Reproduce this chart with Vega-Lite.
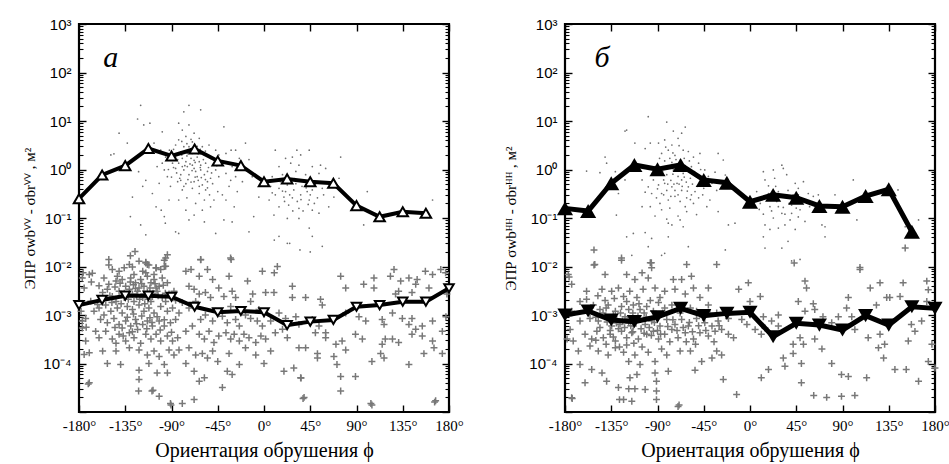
{
"$schema": "https://vega.github.io/schema/vega-lite/v6.json",
"background": "white",
"padding": {"left": 21, "top": 15, "right": 0, "bottom": 5},
"bounds": "flush",
"spacing": 116,
"config": {
 "view": {"stroke": "black", "strokeWidth": 2.2},
 "axis": {"domain": false, "grid": false, "tickColor": "black", "tickWidth": 1.4, "labelColor": "black", "titleColor": "black"}
},
"datasets": {
"dotsA": [
{"phi":-149,"s":2.0},{"phi":-146,"s":2.1},{"phi":-141,"s":5.6},{"phi":-133,"s":3.5},{"phi":-123,"s":11},{"phi":-120,"s":21},{"phi":-128,"s":0.27},{"phi":-130,"s":0.107},{"phi":-120,"s":0.072},{"phi":-122,"s":0.9},{"phi":-115,"s":0.045},{"phi":-118,"s":0.45},{"phi":-115,"s":0.6},
{"phi":-111,"s":9},{"phi":-117,"s":8.3},{"phi":-99,"s":6},{"phi":-107,"s":3.5},{"phi":-100.5,"s":2.5},{"phi":-95.7,"s":1.8},{"phi":-99,"s":1.35},{"phi":-97,"s":0.98},{"phi":-94,"s":0.71},{"phi":-102,"s":0.52},{"phi":-105,"s":0.17},{"phi":-100,"s":0.145},{"phi":-97,"s":0.107},{"phi":-96,"s":0.078},{"phi":-92.4,"s":0.235},{"phi":-91,"s":0.45},{"phi":-108.6,"s":0.32},{"phi":-104,"s":1.15},{"phi":-89,"s":1.35},{"phi":-92,"s":2.5},{"phi":-86,"s":0.052},{"phi":-83,"s":0.048},
{"phi":-83,"s":9},{"phi":-73,"s":21},{"phi":-78,"s":15.5},{"phi":-61.6,"s":17},{"phi":-73,"s":8.3},{"phi":-79.5,"s":6.5},{"phi":-68,"s":5.6},{"phi":-76,"s":4.8},{"phi":-83,"s":4.1},{"phi":-69.7,"s":3.7},{"phi":-63,"s":4.4},{"phi":-86,"s":3.2},{"phi":-78,"s":2.95},{"phi":-73,"s":2.95},{"phi":-81,"s":2.3},{"phi":-74.6,"s":2.15},{"phi":-66.5,"s":2.5},{"phi":-60,"s":2.95},{"phi":-53.5,"s":3.2},{"phi":-47,"s":2.5},{"phi":-86,"s":1.8},{"phi":-79.5,"s":1.7},{"phi":-71,"s":1.7},{"phi":-65,"s":1.8},{"phi":-58,"s":2.0},{"phi":-52,"s":1.7},{"phi":-44,"s":2.0},{"phi":-83,"s":1.35},{"phi":-76,"s":1.45},{"phi":-69.7,"s":1.23},{"phi":-63,"s":1.45},{"phi":-56.8,"s":1.35},{"phi":-50,"s":1.23},{"phi":-86,"s":1.05},{"phi":-78,"s":0.98},{"phi":-68,"s":1.05},{"phi":-61.6,"s":0.98},{"phi":-55,"s":0.91},{"phi":-47,"s":0.98},{"phi":-81,"s":0.78},{"phi":-73,"s":0.78},{"phi":-65,"s":0.71},{"phi":-58,"s":0.78},{"phi":-52,"s":0.66},{"phi":-44,"s":0.71},{"phi":-84,"s":0.56},{"phi":-76,"s":0.51},{"phi":-68,"s":0.56},{"phi":-60,"s":0.48},{"phi":-50,"s":0.51},{"phi":-79.5,"s":0.38},{"phi":-69.7,"s":0.41},{"phi":-63,"s":0.32},{"phi":-56.8,"s":0.38},{"phi":-45,"s":0.35},{"phi":-83,"s":0.235},{"phi":-75,"s":0.26},{"phi":-66.5,"s":0.2},{"phi":-58,"s":0.235},{"phi":-48.7,"s":0.235},{"phi":-76,"s":0.145},{"phi":-68,"s":0.115},{"phi":-60,"s":0.145},{"phi":-52,"s":0.17},{"phi":-40.5,"s":0.3},{"phi":-73,"s":0.091},{"phi":-58,"s":0.083},{"phi":-47,"s":0.048},{"phi":-39,"s":7.6},{"phi":-71,"s":2.5},{"phi":-79.5,"s":1.15},{"phi":-66.5,"s":0.91},{"phi":-68,"s":1.55},{"phi":-74.6,"s":1.15},{"phi":-61.6,"s":1.23},{"phi":-69.7,"s":2.15},{"phi":-81,"s":0.6},{"phi":-55,"s":0.56},{"phi":-63,"s":0.45},
{"phi":-88,"s":2.6},{"phi":-84,"s":1.6},{"phi":-80,"s":2.0},{"phi":-77,"s":1.2},{"phi":-75,"s":1.9},{"phi":-72,"s":1.3},{"phi":-70,"s":0.95},{"phi":-67,"s":1.4},{"phi":-64,"s":2.1},{"phi":-62,"s":1.1},{"phi":-59,"s":1.6},{"phi":-57,"s":0.62},{"phi":-54,"s":1.1},{"phi":-51,"s":0.85},{"phi":-49,"s":1.6},{"phi":-46,"s":1.2},{"phi":-85,"s":0.85},{"phi":-82,"s":0.66},{"phi":-78,"s":0.45},{"phi":-74,"s":0.62},{"phi":-71,"s":0.55},{"phi":-67,"s":0.7},{"phi":-64,"s":0.6},{"phi":-61,"s":0.68},{"phi":-55,"s":0.42},{"phi":-53,"s":0.3},{"phi":-80,"s":3.8},{"phi":-75,"s":3.4},{"phi":-71,"s":4.2},{"phi":-65,"s":3.0},{"phi":-62,"s":2.6},{"phi":-57,"s":2.4},{"phi":-88,"s":1.1},{"phi":-90,"s":0.7},{"phi":-93,"s":1.0},
{"phi":-37,"s":2.15},{"phi":-32,"s":2.5},{"phi":-27.6,"s":2.5},{"phi":-24,"s":1.7},{"phi":-18,"s":3.5},{"phi":-14.6,"s":1.6},{"phi":-35.7,"s":1.35},{"phi":-31,"s":1.15},{"phi":-19.5,"s":0.98},{"phi":-37,"s":0.83},{"phi":-27.6,"s":0.71},{"phi":-21,"s":0.56},{"phi":-34,"s":0.45},{"phi":-26,"s":0.35},{"phi":-11.4,"s":0.71},{"phi":-39,"s":0.091},{"phi":-31,"s":0.083},{"phi":-14.6,"s":0.052},{"phi":-37,"s":0.235},{"phi":-29,"s":0.17},{"phi":-5,"s":0.27},{"phi":-10,"s":0.107},{"phi":-32.4,"s":0.6},
{"phi":11,"s":2.5},{"phi":32,"s":2.5},{"phi":44,"s":2.5},{"phi":21,"s":1.7},{"phi":27.6,"s":1.8},{"phi":35.7,"s":2.0},{"phi":14.6,"s":1.15},{"phi":26,"s":1.35},{"phi":34,"s":1.23},{"phi":47,"s":1.15},{"phi":55,"s":1.23},{"phi":8,"s":0.71},{"phi":18,"s":0.78},{"phi":31,"s":0.91},{"phi":40.5,"s":0.78},{"phi":53.5,"s":0.83},{"phi":60,"s":1.05},{"phi":6.5,"s":0.45},{"phi":14.6,"s":0.41},{"phi":22.7,"s":0.48},{"phi":29,"s":0.38},{"phi":37,"s":0.45},{"phi":47,"s":0.38},{"phi":56.7,"s":0.41},{"phi":11,"s":0.3},{"phi":19.4,"s":0.27},{"phi":27.6,"s":0.26},{"phi":35.7,"s":0.3},{"phi":44,"s":0.235},{"phi":52,"s":0.26},{"phi":14.6,"s":0.17},{"phi":24,"s":0.185},{"phi":34,"s":0.158},{"phi":47,"s":0.145},{"phi":9.7,"s":0.115},{"phi":22.7,"s":0.098},{"phi":34,"s":0.098},{"phi":44,"s":0.062},{"phi":47,"s":0.042},{"phi":14.6,"s":0.042},{"phi":22.7,"s":0.03},{"phi":56.7,"s":0.026},{"phi":68,"s":0.27},{"phi":63,"s":0.17},{"phi":27.6,"s":0.6},{"phi":39,"s":0.56},{"phi":16,"s":0.56},{"phi":32.4,"s":0.22},{"phi":53.5,"s":0.126},{"phi":5,"s":0.235},{"phi":31,"s":0.51},{"phi":42,"s":0.35},{"phi":21,"s":0.35},
{"phi":12,"s":0.6},{"phi":18,"s":0.36},{"phi":25,"s":0.3},{"phi":30,"s":0.65},{"phi":36,"s":0.24},{"phi":41,"s":0.42},{"phi":45,"s":0.3},{"phi":50,"s":0.5},{"phi":58,"s":0.3},{"phi":20,"s":0.22},{"phi":28,"s":0.14},{"phi":38,"s":0.14},{"phi":43,"s":0.19},{"phi":49,"s":0.2},{"phi":8,"s":0.33},{"phi":62,"s":0.55},
{"phi":74.6,"s":1.8},{"phi":100.5,"s":0.35},{"phi":97,"s":0.072},{"phi":164,"s":0.235},{"phi":73,"s":0.66},{"phi":10,"s":0.035},{"phi":25,"s":0.03},{"phi":35,"s":0.022},{"phi":45,"s":0.02}
],
"plusA": [
{"phi":-151,"s":0.014},{"phi":-151,"s":0.0107},{"phi":-130,"s":0.0166},{"phi":-125.5,"s":0.0204},{"phi":-115,"s":0.0118},{"phi":-112,"s":0.0107},{"phi":-97,"s":0.01},{"phi":-94,"s":0.0174},{"phi":-97,"s":0.0135},{"phi":-61.6,"s":0.014},{"phi":-32,"s":0.014},{"phi":-128,"s":0.0098},{"phi":-105,"s":0.0093},
{"phi":-176,"s":0.0074},{"phi":-168,"s":0.0048},{"phi":-173,"s":0.00056},{"phi":-170,"s":0.000166},{"phi":-171,"s":0.000038},
{"phi":-176.8,"s":0.0058},{"phi":-170,"s":0.0068},{"phi":-175,"s":0.0036},{"phi":-167,"s":0.0073},{"phi":-178,"s":0.0012},{"phi":-173.5,"s":0.00085},{"phi":-176.8,"s":0.00054},{"phi":-173.5,"s":0.00029},{"phi":-175,"s":0.000153},{"phi":-170,"s":0.00004},{"phi":-165.4,"s":0.0012},{"phi":-163.8,"s":0.00046},{"phi":-162,"s":0.00164},{"phi":-168.6,"s":0.00193},{"phi":-176.8,"s":0.00075},
{"phi":-147.6,"s":0.0087},{"phi":-141,"s":0.008},{"phi":-136,"s":0.0094},{"phi":-131,"s":0.011},{"phi":-121.6,"s":0.0129},{"phi":-115,"s":0.0122},{"phi":-113.5,"s":0.011},{"phi":-105,"s":0.0094},{"phi":-100.5,"s":0.0087},{"phi":-95.7,"s":0.0101},{"phi":-107,"s":0.0068},{"phi":-118,"s":0.008},{"phi":-126.5,"s":0.0068},{"phi":-95.7,"s":0.015},
{"phi":-155.7,"s":0.0058},{"phi":-151,"s":0.0043},{"phi":-144,"s":0.005},{"phi":-138,"s":0.0054},{"phi":-134.6,"s":0.0039},{"phi":-129.7,"s":0.0058},{"phi":-125,"s":0.0046},{"phi":-120,"s":0.0054},{"phi":-116.8,"s":0.0039},{"phi":-113.5,"s":0.0063},{"phi":-110,"s":0.0046},{"phi":-107,"s":0.0054},{"phi":-102,"s":0.0039},{"phi":-99,"s":0.0058},{"phi":-94,"s":0.0046},{"phi":-142.7,"s":0.0063},{"phi":-160.5,"s":0.004},{"phi":-121.6,"s":0.0036},{"phi":-105,"s":0.0036},{"phi":-115,"s":0.0074},
{"phi":-157,"s":0.0029},{"phi":-152.4,"s":0.0034},{"phi":-147.6,"s":0.0024},{"phi":-141,"s":0.0031},{"phi":-136,"s":0.0023},{"phi":-131,"s":0.0034},{"phi":-128,"s":0.0027},{"phi":-123,"s":0.0031},{"phi":-118,"s":0.0023},{"phi":-113.5,"s":0.0029},{"phi":-108.6,"s":0.0024},{"phi":-104,"s":0.0031},{"phi":-99,"s":0.0023},{"phi":-92.4,"s":0.0027},{"phi":-87.6,"s":0.0031},{"phi":-144,"s":0.0019},{"phi":-126.5,"s":0.0019},{"phi":-110,"s":0.0019},{"phi":-95.7,"s":0.0019},{"phi":-86,"s":0.002},
{"phi":-160.5,"s":0.0014},{"phi":-154,"s":0.0016},{"phi":-149,"s":0.0012},{"phi":-142.7,"s":0.0014},{"phi":-138,"s":0.0011},{"phi":-133,"s":0.0015},{"phi":-128,"s":0.0013},{"phi":-121.6,"s":0.0016},{"phi":-116.8,"s":0.0012},{"phi":-112,"s":0.0014},{"phi":-107,"s":0.0011},{"phi":-100.5,"s":0.0015},{"phi":-94,"s":0.0012},{"phi":-89,"s":0.0014},{"phi":-82.7,"s":0.0011},{"phi":-155.7,"s":0.001},{"phi":-104,"s":0.00092},
{"phi":-159,"s":0.00081},{"phi":-152.4,"s":0.00069},{"phi":-146,"s":0.00085},{"phi":-141,"s":0.00064},{"phi":-134.6,"s":0.00075},{"phi":-129.7,"s":0.00059},{"phi":-125,"s":0.00081},{"phi":-118,"s":0.00064},{"phi":-113.5,"s":0.00075},{"phi":-108.6,"s":0.00059},{"phi":-102,"s":0.00075},{"phi":-97,"s":0.00059},{"phi":-91,"s":0.00069},{"phi":-86,"s":0.00081},{"phi":-138,"s":0.00054},{"phi":-123,"s":0.0005},
{"phi":-160.5,"s":0.00034},{"phi":-154,"s":0.00046},{"phi":-147.6,"s":0.00032},{"phi":-141,"s":0.0004},{"phi":-134.6,"s":0.00029},{"phi":-131,"s":0.00043},{"phi":-126.5,"s":0.00034},{"phi":-120,"s":0.00026},{"phi":-115,"s":0.0004},{"phi":-110,"s":0.00032},{"phi":-105,"s":0.0004},{"phi":-100.5,"s":0.00029},{"phi":-94,"s":0.00037},{"phi":-89,"s":0.00029},{"phi":-84,"s":0.00034},{"phi":-144,"s":0.00026},
{"phi":-157,"s":0.00018},{"phi":-152.4,"s":0.0001},{"phi":-144,"s":0.00018},{"phi":-139.5,"s":0.000095},{"phi":-131,"s":0.00021},{"phi":-121.6,"s":0.00019},{"phi":-113.5,"s":0.00015},{"phi":-112,"s":0.0001},{"phi":-107,"s":0.00018},{"phi":-102,"s":0.00014},{"phi":-97,"s":0.000095},{"phi":-92.4,"s":0.00019},{"phi":-87.6,"s":0.00015},{"phi":-82.7,"s":0.00019},{"phi":-76,"s":0.0001},
{"phi":-121.6,"s":0.000073},{"phi":-121.6,"s":0.000047},{"phi":-122,"s":0.000027},{"phi":-109,"s":0.000027},{"phi":-102,"s":0.000021},{"phi":-104,"s":0.000064},{"phi":-94,"s":0.000064},{"phi":-91,"s":0.000015},{"phi":-79.5,"s":0.000015},{"phi":-68,"s":0.000018},{"phi":-68,"s":0.000069},{"phi":-63,"s":0.000043},{"phi":-58,"s":0.000051},{"phi":-40.5,"s":0.000032},{"phi":-35.7,"s":0.000069},{"phi":-31,"s":0.000059},{"phi":-108,"s":0.000028},{"phi":-90.5,"s":0.000014},
{"phi":-140,"s":0.0045},{"phi":-136,"s":0.0028},{"phi":-132,"s":0.0021},{"phi":-127,"s":0.0042},{"phi":-124,"s":0.0025},{"phi":-119,"s":0.0044},{"phi":-117,"s":0.0027},{"phi":-113,"s":0.0021},{"phi":-111,"s":0.0036},{"phi":-108,"s":0.0028},{"phi":-106,"s":0.0044},{"phi":-103,"s":0.0025},{"phi":-98,"s":0.0041},{"phi":-96,"s":0.0028},{"phi":-145,"s":0.0038},{"phi":-150,"s":0.0025},{"phi":-125,"s":0.0035},{"phi":-130,"s":0.0048},{"phi":-121,"s":0.0021},{"phi":-116,"s":0.0017},{"phi":-139,"s":0.0017},{"phi":-148,"s":0.0018},{"phi":-133,"s":0.0009},{"phi":-127,"s":0.00105},{"phi":-119,"s":0.00095},{"phi":-111,"s":0.00088},{"phi":-145,"s":0.00055},{"phi":-128,"s":0.00045},{"phi":-114,"s":0.00052},{"phi":-101,"s":0.00049},{"phi":-90,"s":0.00044},{"phi":-137,"s":0.00037},{"phi":-124,"s":0.00066},{"phi":-109,"s":0.0007},{"phi":-97,"s":0.0008},
{"phi":-76,"s":0.008},{"phi":-71,"s":0.0087},{"phi":-63,"s":0.0063},{"phi":-55,"s":0.0087},{"phi":-50,"s":0.0054},{"phi":-73,"s":0.0039},{"phi":-68,"s":0.0034},{"phi":-63,"s":0.0027},{"phi":-57,"s":0.0029},{"phi":-52,"s":0.0023},{"phi":-44,"s":0.0036},{"phi":-39,"s":0.0024},{"phi":-34,"s":0.0063},{"phi":-31,"s":0.0031},{"phi":-27.6,"s":0.0023},{"phi":-16,"s":0.005},{"phi":-11,"s":0.0027},{"phi":-13,"s":0.0019},{"phi":-1.6,"s":0.008},{"phi":1.6,"s":0.0029},{"phi":9.7,"s":0.0029},{"phi":-61.6,"s":0.0137},{"phi":-32.5,"s":0.015},
{"phi":-79.5,"s":0.0018},{"phi":-73,"s":0.0014},{"phi":-66.5,"s":0.0019},{"phi":-61.6,"s":0.00081},{"phi":-57,"s":0.001},{"phi":-50,"s":0.00075},{"phi":-47,"s":0.0012},{"phi":-40.5,"s":0.00094},{"phi":-35.7,"s":0.00069},{"phi":-32.4,"s":0.0015},{"phi":-27.6,"s":0.00081},{"phi":-24,"s":0.00059},{"phi":-18,"s":0.001},{"phi":-13,"s":0.00085},{"phi":-6.5,"s":0.00075},{"phi":-1.6,"s":0.00059},{"phi":-5,"s":0.0013},
{"phi":-76,"s":0.00046},{"phi":-69.7,"s":0.00059},{"phi":-63,"s":0.0004},{"phi":-58,"s":0.00032},{"phi":-53.5,"s":0.00046},{"phi":-48.7,"s":0.00027},{"phi":-44,"s":0.00037},{"phi":-37,"s":0.00043},{"phi":-32.4,"s":0.00032},{"phi":-29,"s":0.0004},{"phi":-24,"s":0.00029},{"phi":-19.5,"s":0.0004},{"phi":-14.6,"s":0.00034},{"phi":-8,"s":0.00027},{"phi":-3,"s":0.00037},{"phi":1.6,"s":0.00032},
{"phi":-73,"s":0.00021},{"phi":-66.5,"s":0.00015},{"phi":-60,"s":0.00016},{"phi":-55,"s":0.00013},{"phi":-50,"s":0.00018},{"phi":-45,"s":0.00011},{"phi":-34,"s":0.00016},{"phi":-24,"s":0.000095},{"phi":-18,"s":0.00021},{"phi":-8,"s":0.00015},{"phi":0,"s":0.0001},{"phi":6.5,"s":0.00018},
{"phi":13,"s":0.01},{"phi":27.6,"s":0.0039},{"phi":27.6,"s":0.0023},{"phi":40.5,"s":0.0023},{"phi":55,"s":0.0021},{"phi":56.7,"s":0.0016},{"phi":74.6,"s":0.0063},{"phi":79.5,"s":0.0036},{"phi":97,"s":0.0043},{"phi":107,"s":0.0058},{"phi":107,"s":0.0036},{"phi":123,"s":0.0063},{"phi":126.5,"s":0.0087},{"phi":133,"s":0.005},{"phi":141,"s":0.0058},{"phi":147.6,"s":0.0043},{"phi":149,"s":0.0054},{"phi":157,"s":0.008},{"phi":164,"s":0.0068},{"phi":172,"s":0.0087},{"phi":176.7,"s":0.0074},{"phi":131,"s":0.0031},{"phi":128,"s":0.0027},{"phi":144,"s":0.0029},{"phi":160.5,"s":0.0036},{"phi":178,"s":0.0027},
{"phi":6.5,"s":0.00075},{"phi":14.6,"s":0.0011},{"phi":21,"s":0.00085},{"phi":31,"s":0.00092},{"phi":34,"s":0.00064},{"phi":47,"s":0.00081},{"phi":53.5,"s":0.00059},{"phi":66.5,"s":0.00085},{"phi":79.5,"s":0.0011},{"phi":92.4,"s":0.00092},{"phi":99,"s":0.00075},{"phi":115,"s":0.00081},{"phi":116.8,"s":0.00064},{"phi":125,"s":0.0011},{"phi":134.6,"s":0.00085},{"phi":141,"s":0.00064},{"phi":144,"s":0.00085},{"phi":154,"s":0.00059},{"phi":164,"s":0.00075},{"phi":177,"s":0.00092},
{"phi":11,"s":0.00043},{"phi":18,"s":0.00051},{"phi":22.7,"s":0.00034},{"phi":34,"s":0.00021},{"phi":40.5,"s":0.00021},{"phi":50,"s":0.00043},{"phi":60,"s":0.00043},{"phi":60,"s":0.00034},{"phi":70,"s":0.00025},{"phi":76,"s":0.00029},{"phi":89,"s":0.0004},{"phi":95.7,"s":0.00032},{"phi":115,"s":0.00025},{"phi":118,"s":0.00032},{"phi":125,"s":0.00032},{"phi":131,"s":0.00027},{"phi":144,"s":0.0004},{"phi":147.6,"s":0.00051},{"phi":154,"s":0.00037},{"phi":164,"s":0.00029},{"phi":173.5,"s":0.00046},{"phi":165.4,"s":0.00021},{"phi":173.5,"s":0.00016},{"phi":155.6,"s":0.00016},
{"phi":19.4,"s":0.000069},{"phi":29,"s":0.000081},{"phi":35.7,"s":0.000051},{"phi":52,"s":0.00013},{"phi":52,"s":0.00016},{"phi":68,"s":0.00014},{"phi":71,"s":0.000095},{"phi":74.6,"s":0.000054},{"phi":74.6,"s":0.000027},{"phi":79.5,"s":0.00019},{"phi":89,"s":0.000054},{"phi":105,"s":0.00011},{"phi":113.5,"s":0.00016},{"phi":116.8,"s":0.00013},{"phi":141,"s":0.000095},{"phi":39,"s":0.00002},{"phi":105,"s":0.000014},{"phi":167,"s":0.000017},{"phi":104,"s":0.000015},{"phi":166,"s":0.000016},{"phi":38,"s":0.000019},{"phi":36,"s":0.00005},{"phi":10,"s":0.0074}
],
"upA": [
{"phi":-180,"s":0.25},{"phi":-157.5,"s":0.77},{"phi":-135,"s":1.2},{"phi":-112.5,"s":2.7},{"phi":-90,"s":1.9},{"phi":-67.5,"s":2.65},{"phi":-45,"s":1.5},{"phi":-22.5,"s":1.2},{"phi":0,"s":0.56},{"phi":22.5,"s":0.64},{"phi":45,"s":0.56},{"phi":67.5,"s":0.52},{"phi":90,"s":0.18},{"phi":112.5,"s":0.106},{"phi":135,"s":0.135},{"phi":157.5,"s":0.125}
],
"lowA": [
{"phi":-180,"s":0.0016},{"phi":-157.5,"s":0.00204},{"phi":-135,"s":0.0025},{"phi":-112.5,"s":0.0025},{"phi":-90,"s":0.00238},{"phi":-67.5,"s":0.00148},{"phi":-45,"s":0.00114},{"phi":-22.5,"s":0.00121},{"phi":0,"s":0.00114},{"phi":22.5,"s":0.00062},{"phi":45,"s":0.00073},{"phi":67.5,"s":0.00079},{"phi":90,"s":0.00148},{"phi":112.5,"s":0.0016},{"phi":135,"s":0.00188},{"phi":157.5,"s":0.00188},{"phi":180,"s":0.00356}
],
"dotsB": [
{"phi":-99,"s":12.3},{"phi":-81,"s":9.5},{"phi":-121.6,"s":6.2},{"phi":-120,"s":6.5},{"phi":-74.6,"s":6.2},{"phi":-63,"s":7.5},{"phi":-66.5,"s":5.6},{"phi":-112,"s":3.5},{"phi":-102,"s":2.7},{"phi":-97,"s":3.5},{"phi":-141,"s":1.8},{"phi":-139.5,"s":1.35},{"phi":-159,"s":0.93},{"phi":-146,"s":0.86},{"phi":-131,"s":0.9},{"phi":-121.6,"s":0.61},{"phi":-128,"s":0.32},{"phi":-130,"s":0.115},{"phi":-120,"s":0.041},{"phi":-115,"s":0.017},{"phi":-113.5,"s":0.048},{"phi":-99,"s":0.0256},{"phi":-102,"s":0.05},{"phi":-95.7,"s":0.038},{"phi":-83,"s":0.0187},{"phi":-86,"s":0.017},{"phi":-60,"s":0.0256},{"phi":-65,"s":0.066},{"phi":-79.5,"s":0.041},{"phi":-24,"s":0.022},{"phi":-31,"s":0.136},{"phi":-39,"s":0.235},{"phi":-31,"s":2.15},{"phi":-26,"s":1.57},{"phi":-34,"s":0.88},{"phi":-24,"s":0.77},{"phi":-11,"s":0.37},{"phi":-14.6,"s":0.078},{"phi":-21,"s":0.072},
{"phi":-89,"s":3.5},{"phi":-83,"s":4.06},{"phi":-76,"s":3.2},{"phi":-70,"s":4.4},{"phi":-65,"s":2.5},{"phi":-79.5,"s":2.5},{"phi":-86,"s":2.15},{"phi":-73,"s":1.95},{"phi":-60,"s":2.35},{"phi":-55,"s":1.8},{"phi":-48.7,"s":2.15},{"phi":-83,"s":1.5},{"phi":-76,"s":1.4},{"phi":-68,"s":1.57},{"phi":-63,"s":1.2},{"phi":-57,"s":1.14},{"phi":-50,"s":1.35},{"phi":-44,"s":0.98},{"phi":-92.4,"s":1.14},{"phi":-87.6,"s":0.93},{"phi":-81,"s":0.78},{"phi":-74.6,"s":0.98},{"phi":-70,"s":0.72},{"phi":-65,"s":0.83},{"phi":-58,"s":0.66},{"phi":-52,"s":0.77},{"phi":-47,"s":0.61},{"phi":-94,"s":0.61},{"phi":-89,"s":0.48},{"phi":-83,"s":0.52},{"phi":-76,"s":0.44},{"phi":-71,"s":0.52},{"phi":-66.5,"s":0.37},{"phi":-60,"s":0.44},{"phi":-53.5,"s":0.35},{"phi":-45,"s":0.41},{"phi":-95.7,"s":0.32},{"phi":-91,"s":0.26},{"phi":-86,"s":0.32},{"phi":-79.5,"s":0.235},{"phi":-73,"s":0.28},{"phi":-68,"s":0.22},{"phi":-61.6,"s":0.26},{"phi":-55,"s":0.2},{"phi":-50,"s":0.26},{"phi":-97,"s":0.171},{"phi":-86,"s":0.148},{"phi":-78,"s":0.16},{"phi":-70,"s":0.11},{"phi":-61.6,"s":0.136},{"phi":-52,"s":0.118},{"phi":-42,"s":0.171},{"phi":-79.5,"s":0.078},{"phi":-76,"s":0.072},{"phi":-81,"s":0.095},{"phi":-68,"s":0.091},{"phi":-92.4,"s":0.11},{"phi":-105,"s":0.171},{"phi":-102,"s":0.34},{"phi":-105,"s":0.61},{"phi":-99,"s":0.44},{"phi":-37,"s":0.52},{"phi":-32.4,"s":0.37},{"phi":-40.5,"s":0.72},{"phi":-78,"s":1.7},{"phi":-71,"s":1.14},{"phi":-66.5,"s":0.61},{"phi":-84,"s":0.61},{"phi":-63,"s":0.171},{"phi":-87.6,"s":0.2},{"phi":-57,"s":0.3},{"phi":-73,"s":0.37},{"phi":-81,"s":0.37},
{"phi":-88,"s":1.7},{"phi":-85,"s":0.9},{"phi":-80,"s":1.1},{"phi":-77,"s":0.6},{"phi":-75,"s":0.8},{"phi":-72,"s":1.6},{"phi":-69,"s":0.5},{"phi":-67,"s":1.0},{"phi":-64,"s":0.7},{"phi":-62,"s":0.55},{"phi":-59,"s":1.5},{"phi":-56,"s":0.5},{"phi":-54,"s":0.9},{"phi":-51,"s":0.45},{"phi":-48,"s":1.0},{"phi":-46,"s":0.3},{"phi":-90,"s":0.4},{"phi":-84,"s":0.3},{"phi":-80,"s":0.5},{"phi":-77,"s":0.28},{"phi":-74,"s":0.5},{"phi":-70,"s":0.3},{"phi":-66,"s":0.45},{"phi":-61,"s":0.36},{"phi":-58,"s":0.24},{"phi":-82,"s":2.9},{"phi":-75,"s":2.2},{"phi":-69,"s":3.1},{"phi":-64,"s":1.7},
{"phi":13,"s":0.9},{"phi":22.7,"s":0.98},{"phi":32.4,"s":1.05},{"phi":35.7,"s":0.78},{"phi":31,"s":1.23},{"phi":14.6,"s":0.61},{"phi":24,"s":0.66},{"phi":44,"s":0.52},{"phi":52,"s":0.56},{"phi":6.5,"s":0.35},{"phi":18,"s":0.32},{"phi":27.6,"s":0.35},{"phi":37,"s":0.37},{"phi":47,"s":0.3},{"phi":56.7,"s":0.32},{"phi":66.5,"s":0.3},{"phi":10,"s":0.2},{"phi":19.4,"s":0.171},{"phi":26,"s":0.22},{"phi":32.4,"s":0.165},{"phi":40.5,"s":0.185},{"phi":48.7,"s":0.148},{"phi":58,"s":0.171},{"phi":13,"s":0.12},{"phi":22.7,"s":0.1},{"phi":31,"s":0.125},{"phi":39,"s":0.091},{"phi":47,"s":0.105},{"phi":53.5,"s":0.085},{"phi":14.6,"s":0.072},{"phi":27.6,"s":0.062},{"phi":34,"s":0.072},{"phi":44,"s":0.058},{"phi":13,"s":0.041},{"phi":19.4,"s":0.058},{"phi":31,"s":0.024},{"phi":37,"s":0.033},{"phi":14.6,"s":0.024},{"phi":40.5,"s":0.013},{"phi":48.7,"s":0.014},{"phi":73,"s":0.066},{"phi":70,"s":0.072},{"phi":73,"s":0.041},{"phi":61,"s":0.2},{"phi":44,"s":0.235},{"phi":22.7,"s":0.235},{"phi":47,"s":0.41},{"phi":18,"s":0.46},{"phi":35.7,"s":0.26},{"phi":27.6,"s":0.171},{"phi":40.5,"s":0.125},
{"phi":16,"s":0.28},{"phi":21,"s":0.14},{"phi":29,"s":0.27},{"phi":34,"s":0.12},{"phi":42,"s":0.3},{"phi":51,"s":0.22},{"phi":25,"s":0.45},{"phi":38,"s":0.2},{"phi":9,"s":0.15},{"phi":45,"s":0.16},
{"phi":100.5,"s":0.61},{"phi":104,"s":0.091},{"phi":144,"s":0.38},{"phi":151,"s":0.066},{"phi":164,"s":0.091},{"phi":61.6,"s":0.28},{"phi":82.7,"s":0.3}
],
"plusB": [
{"phi":-151,"s":0.011},{"phi":-141,"s":0.0068},{"phi":-125,"s":0.015},{"phi":-120,"s":0.0068},{"phi":-112,"s":0.0054},{"phi":-105,"s":0.0074},{"phi":-99,"s":0.0058},{"phi":-97,"s":0.0119},{"phi":-95.7,"s":0.0094},{"phi":-74.6,"s":0.0054},{"phi":-66.5,"s":0.0054},{"phi":-61.6,"s":0.011},{"phi":-57,"s":0.0063},{"phi":-32.4,"s":0.011},{"phi":-40.5,"s":0.0036},{"phi":-176.8,"s":0.0068},{"phi":-173.5,"s":0.0043},{"phi":-159,"s":0.0031},{"phi":-159,"s":0.0021},{"phi":-11,"s":0.0034},{"phi":-1.6,"s":0.0046},{"phi":10,"s":0.0024},{"phi":0,"s":0.0019},{"phi":-151.8,"s":0.022},{"phi":-151.8,"s":0.0107},{"phi":-125,"s":0.0135},{"phi":-96,"s":0.012},{"phi":-176,"s":0.0061},
{"phi":-144,"s":0.0034},{"phi":-134.6,"s":0.0031},{"phi":-128,"s":0.0036},{"phi":-123,"s":0.0024},{"phi":-117,"s":0.0031},{"phi":-110,"s":0.0023},{"phi":-104,"s":0.0034},{"phi":-92.4,"s":0.0036},{"phi":-87.6,"s":0.0023},{"phi":-83,"s":0.0031},{"phi":-73,"s":0.0034},{"phi":-63,"s":0.0027},{"phi":-55,"s":0.0036},{"phi":-48.7,"s":0.0023},{"phi":-141,"s":0.002},{"phi":-97,"s":0.002},{"phi":-165.4,"s":0.0019},
{"phi":-152.4,"s":0.0016},{"phi":-146,"s":0.0013},{"phi":-138,"s":0.0016},{"phi":-131,"s":0.0012},{"phi":-125,"s":0.0015},{"phi":-118,"s":0.0013},{"phi":-113.5,"s":0.0016},{"phi":-107,"s":0.0013},{"phi":-100.5,"s":0.0015},{"phi":-94,"s":0.0012},{"phi":-89,"s":0.0018},{"phi":-83,"s":0.0014},{"phi":-76,"s":0.0016},{"phi":-58,"s":0.0014},{"phi":-52,"s":0.0012},{"phi":-40.5,"s":0.0016},{"phi":-32.4,"s":0.0011},{"phi":-173.5,"s":0.0012},
{"phi":-175,"s":0.0005},{"phi":-165.4,"s":0.00075},{"phi":-155.7,"s":0.00085},{"phi":-147.6,"s":0.00075},{"phi":-141,"s":0.00092},{"phi":-134.6,"s":0.00059},{"phi":-129.7,"s":0.00081},{"phi":-126.5,"s":0.00064},{"phi":-121.6,"s":0.00092},{"phi":-118,"s":0.00069},{"phi":-113.5,"s":0.00059},{"phi":-107,"s":0.00081},{"phi":-102,"s":0.00064},{"phi":-95.7,"s":0.00075},{"phi":-87.6,"s":0.00059},{"phi":-81,"s":0.00081},{"phi":-73,"s":0.00064},{"phi":-66.5,"s":0.00081},{"phi":-60,"s":0.00059},{"phi":-52,"s":0.00085},{"phi":-44,"s":0.00069},{"phi":-37,"s":0.00059},{"phi":-31,"s":0.00075},{"phi":-21,"s":0.00085},{"phi":-8,"s":0.00081},{"phi":-3,"s":0.00064},
{"phi":-172,"s":0.00029},{"phi":-160.5,"s":0.0004},{"phi":-154,"s":0.00032},{"phi":-149,"s":0.00046},{"phi":-142.7,"s":0.00034},{"phi":-136,"s":0.0004},{"phi":-131,"s":0.00029},{"phi":-125,"s":0.00046},{"phi":-120,"s":0.00034},{"phi":-115,"s":0.00043},{"phi":-108.6,"s":0.00032},{"phi":-100.5,"s":0.0004},{"phi":-94,"s":0.00046},{"phi":-89,"s":0.00032},{"phi":-83,"s":0.0004},{"phi":-76,"s":0.0005},{"phi":-70,"s":0.00034},{"phi":-63,"s":0.00043},{"phi":-55,"s":0.00032},{"phi":-48.7,"s":0.00043},{"phi":-40.5,"s":0.00037},{"phi":-34,"s":0.00046},{"phi":-27.6,"s":0.0005},{"phi":-21,"s":0.0004},{"phi":-16,"s":0.00034},{"phi":-178,"s":0.00032},
{"phi":-167,"s":0.00018},{"phi":-155.7,"s":0.00023},{"phi":-147.6,"s":0.00018},{"phi":-138,"s":0.00015},{"phi":-131,"s":0.00021},{"phi":-123,"s":0.00017},{"phi":-118,"s":0.00011},{"phi":-112,"s":0.00015},{"phi":-107,"s":0.000095},{"phi":-99,"s":0.00017},{"phi":-92.4,"s":0.00011},{"phi":-86,"s":0.0002},{"phi":-81,"s":0.00015},{"phi":-68,"s":0.00018},{"phi":-58,"s":0.00018},{"phi":-47,"s":0.00011},{"phi":-37,"s":0.00013},{"phi":-32.4,"s":0.00018},{"phi":-27.6,"s":0.00015},{"phi":-165.4,"s":0.000095},{"phi":-154,"s":0.000075},{"phi":-144,"s":0.000064},{"phi":-139.5,"s":0.000043},{"phi":-128,"s":0.000032},{"phi":-118,"s":0.00003},{"phi":-112,"s":0.00003},{"phi":-102,"s":0.000029},{"phi":-91,"s":0.000043},{"phi":-91,"s":0.000027},{"phi":-91,"s":0.000018},{"phi":-79.5,"s":0.000069},{"phi":-70,"s":0.000013},{"phi":-123,"s":0.000018},{"phi":-115,"s":0.0000167},{"phi":-173.5,"s":0.0000196},{"phi":-160.5,"s":0.00004},{"phi":-26,"s":0.000047},{"phi":-13,"s":0.000023},{"phi":11,"s":0.000051},{"phi":-92.4,"s":0.000064},{"phi":-116.8,"s":0.000051},{"phi":-110,"s":0.000059},{"phi":-53.5,"s":0.000073},{"phi":-173,"s":0.000019},{"phi":-69,"s":0.000014},{"phi":-127,"s":0.000018},
{"phi":-150,"s":0.0009},{"phi":-146,"s":0.00055},{"phi":-143,"s":0.0011},{"phi":-139,"s":0.00072},{"phi":-136,"s":0.00048},{"phi":-133,"s":0.001},{"phi":-130,"s":0.00068},{"phi":-128,"s":0.00052},{"phi":-124,"s":0.00075},{"phi":-122,"s":0.00055},{"phi":-119,"s":0.00085},{"phi":-116,"s":0.0006},{"phi":-114,"s":0.00045},{"phi":-111,"s":0.00072},{"phi":-109,"s":0.00095},{"phi":-106,"s":0.00052},{"phi":-103,"s":0.00042},{"phi":-101,"s":0.0009},{"phi":-98,"s":0.00055},{"phi":-96,"s":0.00038},{"phi":-93,"s":0.0007},{"phi":-90,"s":0.00048},{"phi":-87,"s":0.0004},{"phi":-85,"s":0.0011},{"phi":-80,"s":0.00058},{"phi":-78,"s":0.00028},{"phi":-75,"s":0.0008},{"phi":-71,"s":0.00048},{"phi":-68,"s":0.0011},{"phi":-65,"s":0.00055},{"phi":-62,"s":0.00028},{"phi":-59,"s":0.0007},{"phi":-56,"s":0.00045},{"phi":-53,"s":0.00025},{"phi":-50,"s":0.0006},{"phi":-46,"s":0.0009},{"phi":-43,"s":0.00048},{"phi":-39,"s":0.0011},{"phi":-35,"s":0.00028},{"phi":-30,"s":0.0006},{"phi":-148,"s":0.0025},{"phi":-140,"s":0.0014},{"phi":-132,"s":0.0022},{"phi":-126,"s":0.0011},{"phi":-120,"s":0.0019},{"phi":-114,"s":0.0011},{"phi":-108,"s":0.0017},{"phi":-103,"s":0.0011},{"phi":-150,"s":0.0003},{"phi":-140,"s":0.00025},{"phi":-133,"s":0.00035},{"phi":-127,"s":0.00022},{"phi":-120,"s":0.00024},{"phi":-113,"s":0.00026},{"phi":-105,"s":0.00022},
{"phi":32.4,"s":0.00013},{"phi":42,"s":0.00016},{"phi":50,"s":0.0001},{"phi":50,"s":0.00004},{"phi":79.5,"s":0.0001},{"phi":74.6,"s":0.00002},{"phi":89,"s":0.000059},{"phi":89,"s":0.000021},{"phi":95.7,"s":0.000054},{"phi":113.5,"s":0.000051},{"phi":141,"s":0.000075},{"phi":152,"s":0.000075},{"phi":164,"s":0.000043},{"phi":173.5,"s":0.00011},{"phi":180,"s":0.000081},{"phi":172,"s":0.0019},{"phi":172,"s":0.005},{"phi":173.5,"s":0.0033},{"phi":167,"s":0.00075},{"phi":160.5,"s":0.00046},{"phi":177,"s":0.00025},{"phi":157,"s":0.00064},{"phi":154,"s":0.00029},{"phi":133,"s":0.0023},{"phi":136,"s":0.0023},{"phi":146,"s":0.0024},{"phi":149,"s":0.0046},{"phi":117,"s":0.0036},{"phi":126.5,"s":0.0046},{"phi":123,"s":0.0016},{"phi":126.5,"s":0.0004},{"phi":125,"s":0.00021},{"phi":130,"s":0.00013},{"phi":131,"s":0.00025},{"phi":115,"s":0.00034},{"phi":102,"s":0.0005},{"phi":107,"s":0.0087},{"phi":95.7,"s":0.0023},{"phi":94,"s":0.0014},{"phi":99,"s":0.00092},{"phi":79.5,"s":0.00069},{"phi":86,"s":0.00092},{"phi":71,"s":0.00092},{"phi":70,"s":0.0002},{"phi":63,"s":0.00032},{"phi":61.6,"s":0.0017},{"phi":53.5,"s":0.005},{"phi":55,"s":0.0036},{"phi":63,"s":0.0013},{"phi":53.5,"s":0.0012},{"phi":48.7,"s":0.00034},{"phi":52,"s":0.00025},{"phi":42,"s":0.00025},{"phi":27.6,"s":0.001},{"phi":21,"s":0.00075},{"phi":14.6,"s":0.00054},{"phi":11,"s":0.0004},{"phi":18,"s":0.000075},{"phi":34,"s":0.000088},{"phi":5,"s":0.0005},{"phi":47,"s":0.0019},{"phi":13,"s":0.00092},{"phi":27.6,"s":0.00059},{"phi":62,"s":0.000022},{"phi":102,"s":0.000022},{"phi":151,"s":0.024},{"phi":43,"s":0.0118},{"phi":107,"s":0.0095}
],
"upB": [
{"phi":-180,"s":0.158},{"phi":-157.5,"s":0.139},{"phi":-135,"s":0.52},{"phi":-112.5,"s":1.24},{"phi":-90,"s":1.01},{"phi":-67.5,"s":1.24},{"phi":-45,"s":0.61},{"phi":-22.5,"s":0.535},{"phi":0,"s":0.217},{"phi":22.5,"s":0.3},{"phi":45,"s":0.262},{"phi":67.5,"s":0.177},{"phi":90,"s":0.171},{"phi":112.5,"s":0.284},{"phi":135,"s":0.39},{"phi":157.5,"s":0.052}
],
"lowB": [
{"phi":-180,"s":0.001},{"phi":-157.5,"s":0.00121},{"phi":-135,"s":0.00079},{"phi":-112.5,"s":0.00073},{"phi":-90,"s":0.00092},{"phi":-67.5,"s":0.00137},{"phi":-45,"s":0.00097},{"phi":-22.5,"s":0.00108},{"phi":0,"s":0.00114},{"phi":22.5,"s":0.000357},{"phi":45,"s":0.000675},{"phi":67.5,"s":0.00062},{"phi":90,"s":0.00049},{"phi":112.5,"s":0.00097},{"phi":135,"s":0.00062},{"phi":157.5,"s":0.00148},{"phi":180,"s":0.00137}
],
"labA": [{"phi":-149,"s":200,"t":"а"}],
"labB": [{"phi":-144,"s":200,"t":"б"}]
},
"hconcat": [
{
 "width": 370, "height": 388,
 "resolve": {"axis": {"x": "independent", "y": "independent"}},
 "layer": [
  {"data": {"name": "dotsA"},
   "mark": {"type": "point", "shape": "circle", "filled": true, "size": 3, "color": "#6e6e6e", "opacity": 1},
   "encoding": {
    "x": {"field": "phi", "type": "quantitative", "scale": {"domain": [-180, 180], "nice": false},
      "axis": {"orient": "bottom", "values": [-180,-135,-90,-45,0,45,90,135,180], "labelExpr": "datum.value + '°'", "labelFont": "Liberation Serif", "labelFontSize": 15, "labelFlush": false, "labelOverlap": false, "tickSize": -7, "labelPadding": 13, "title": "Ориентация обрушения  ϕ", "titleFont": "Liberation Serif", "titleFontSize": 20, "titleFontWeight": "normal", "titlePadding": 7}},
    "y": {"field": "s", "type": "quantitative", "scale": {"type": "log", "domain": [0.00001, 1000], "nice": false},
      "axis": {"orient": "left", "values": [0.00001,0.0001,0.001,0.01,0.1,1,10,100,1000], "labelExpr": "datum.value < 5e-5 ? '' : datum.value < 5e-4 ? '10⁻⁴' : datum.value < 5e-3 ? '10⁻³' : datum.value < 0.05 ? '10⁻²' : datum.value < 0.5 ? '10⁻¹' : datum.value < 5 ? '10⁰' : datum.value < 50 ? '10¹' : datum.value < 500 ? '10²' : '10³'", "labelFont": "Liberation Sans", "labelFontSize": 15, "labelOverlap": false, "tickSize": -7, "labelPadding": 15, "title": "ЭПР  σwbⱽⱽ - σbrⱽⱽ , м²", "titleFont": "Liberation Serif", "titleFontSize": 15, "titleFontWeight": "normal", "titlePadding": 5}}
   }},
  {"data": {"name": "plusA"},
   "mark": {"type": "point", "shape": "M-1,0H1M0,-1V1", "filled": false, "size": 48, "stroke": "#787878", "strokeWidth": 1.5, "opacity": 1},
   "encoding": {
    "x": {"field": "phi", "type": "quantitative", "scale": {"domain": [-180, 180], "nice": false},
      "axis": {"orient": "top", "values": [-180,-135,-90,-45,0,45,90,135,180], "labels": false, "tickSize": -7, "title": null}},
    "y": {"field": "s", "type": "quantitative", "scale": {"type": "log", "domain": [0.00001, 1000], "nice": false},
      "axis": {"orient": "right", "values": [0.00001,0.0001,0.001,0.01,0.1,1,10,100,1000], "labels": false, "tickSize": -7, "title": null}}
   }},
  {"data": {"name": "upA"},
   "mark": {"type": "line", "color": "black", "strokeWidth": 4},
   "encoding": {
    "x": {"field": "phi", "type": "quantitative", "axis": null},
    "y": {"field": "s", "type": "quantitative", "scale": {"type": "log"},
      "axis": {"orient": "left", "values": [2e-5,3e-5,4e-5,5e-5,6e-5,7e-5,8e-5,9e-5,2e-4,3e-4,4e-4,5e-4,6e-4,7e-4,8e-4,9e-4,0.002,0.003,0.004,0.005,0.006,0.007,0.008,0.009,0.02,0.03,0.04,0.05,0.06,0.07,0.08,0.09,0.2,0.3,0.4,0.5,0.6,0.7,0.8,0.9,2,3,4,5,6,7,8,9,20,30,40,50,60,70,80,90,200,300,400,500,600,700,800,900], "labels": false, "tickSize": -4, "tickWidth": 1.1, "title": null}}
   }},
  {"data": {"name": "upA"},
   "mark": {"type": "point", "shape": "triangle-up", "filled": true, "fill": "white", "stroke": "black", "strokeWidth": 2, "size": 110, "opacity": 1},
   "encoding": {
    "x": {"field": "phi", "type": "quantitative", "axis": null},
    "y": {"field": "s", "type": "quantitative", "scale": {"type": "log"},
      "axis": {"orient": "right", "values": [2e-5,3e-5,4e-5,5e-5,6e-5,7e-5,8e-5,9e-5,2e-4,3e-4,4e-4,5e-4,6e-4,7e-4,8e-4,9e-4,0.002,0.003,0.004,0.005,0.006,0.007,0.008,0.009,0.02,0.03,0.04,0.05,0.06,0.07,0.08,0.09,0.2,0.3,0.4,0.5,0.6,0.7,0.8,0.9,2,3,4,5,6,7,8,9,20,30,40,50,60,70,80,90,200,300,400,500,600,700,800,900], "labels": false, "tickSize": -4, "tickWidth": 1.1, "title": null}}
   }},
  {"data": {"name": "lowA"},
   "mark": {"type": "line", "color": "black", "strokeWidth": 4},
   "encoding": {
    "x": {"field": "phi", "type": "quantitative", "axis": null},
    "y": {"field": "s", "type": "quantitative", "scale": {"type": "log"}, "axis": null}
   }},
  {"data": {"name": "lowA"},
   "mark": {"type": "point", "shape": "triangle-down", "filled": true, "fill": "white", "stroke": "black", "strokeWidth": 2, "size": 90, "opacity": 1},
   "encoding": {
    "x": {"field": "phi", "type": "quantitative", "axis": null},
    "y": {"field": "s", "type": "quantitative", "scale": {"type": "log"}, "axis": null}
   }},
  {"data": {"name": "labA"},
   "mark": {"type": "text", "font": "Liberation Serif", "fontStyle": "italic", "fontSize": 30, "color": "black", "align": "center", "baseline": "middle"},
   "encoding": {
    "x": {"field": "phi", "type": "quantitative", "axis": null},
    "y": {"field": "s", "type": "quantitative", "scale": {"type": "log"}, "axis": null},
    "text": {"field": "t"}
   }}
 ]
},
{
 "width": 370, "height": 388,
 "resolve": {"axis": {"x": "independent", "y": "independent"}},
 "layer": [
  {"data": {"name": "dotsB"},
   "mark": {"type": "point", "shape": "circle", "filled": true, "size": 3, "color": "#6e6e6e", "opacity": 1},
   "encoding": {
    "x": {"field": "phi", "type": "quantitative", "scale": {"domain": [-180, 180], "nice": false},
      "axis": {"orient": "bottom", "values": [-180,-135,-90,-45,0,45,90,135,180], "labelExpr": "datum.value + '°'", "labelFont": "Liberation Serif", "labelFontSize": 15, "labelFlush": false, "labelOverlap": false, "tickSize": -7, "labelPadding": 13, "title": "Ориентация обрушения  ϕ", "titleFont": "Liberation Serif", "titleFontSize": 20, "titleFontWeight": "normal", "titlePadding": 7}},
    "y": {"field": "s", "type": "quantitative", "scale": {"type": "log", "domain": [0.00001, 1000], "nice": false},
      "axis": {"orient": "left", "values": [0.00001,0.0001,0.001,0.01,0.1,1,10,100,1000], "labelExpr": "datum.value < 5e-5 ? '' : datum.value < 5e-4 ? '10⁻⁴' : datum.value < 5e-3 ? '10⁻³' : datum.value < 0.05 ? '10⁻²' : datum.value < 0.5 ? '10⁻¹' : datum.value < 5 ? '10⁰' : datum.value < 50 ? '10¹' : datum.value < 500 ? '10²' : '10³'", "labelFont": "Liberation Sans", "labelFontSize": 15, "labelOverlap": false, "tickSize": -7, "labelPadding": 15, "title": "ЭПР  σwbᴴᴴ - σbrᴴᴴ , м²", "titleFont": "Liberation Serif", "titleFontSize": 15, "titleFontWeight": "normal", "titlePadding": 10}}
   }},
  {"data": {"name": "plusB"},
   "mark": {"type": "point", "shape": "M-1,0H1M0,-1V1", "filled": false, "size": 48, "stroke": "#787878", "strokeWidth": 1.5, "opacity": 1},
   "encoding": {
    "x": {"field": "phi", "type": "quantitative", "scale": {"domain": [-180, 180], "nice": false},
      "axis": {"orient": "top", "values": [-180,-135,-90,-45,0,45,90,135,180], "labels": false, "tickSize": -7, "title": null}},
    "y": {"field": "s", "type": "quantitative", "scale": {"type": "log", "domain": [0.00001, 1000], "nice": false},
      "axis": {"orient": "right", "values": [0.00001,0.0001,0.001,0.01,0.1,1,10,100,1000], "labels": false, "tickSize": -7, "title": null}}
   }},
  {"data": {"name": "upB"},
   "mark": {"type": "line", "color": "black", "strokeWidth": 5},
   "encoding": {
    "x": {"field": "phi", "type": "quantitative", "axis": null},
    "y": {"field": "s", "type": "quantitative", "scale": {"type": "log"},
      "axis": {"orient": "left", "values": [2e-5,3e-5,4e-5,5e-5,6e-5,7e-5,8e-5,9e-5,2e-4,3e-4,4e-4,5e-4,6e-4,7e-4,8e-4,9e-4,0.002,0.003,0.004,0.005,0.006,0.007,0.008,0.009,0.02,0.03,0.04,0.05,0.06,0.07,0.08,0.09,0.2,0.3,0.4,0.5,0.6,0.7,0.8,0.9,2,3,4,5,6,7,8,9,20,30,40,50,60,70,80,90,200,300,400,500,600,700,800,900], "labels": false, "tickSize": -4, "tickWidth": 1.1, "title": null}}
   }},
  {"data": {"name": "upB"},
   "mark": {"type": "point", "shape": "triangle-up", "filled": true, "color": "black", "size": 260, "opacity": 1},
   "encoding": {
    "x": {"field": "phi", "type": "quantitative", "axis": null},
    "y": {"field": "s", "type": "quantitative", "scale": {"type": "log"},
      "axis": {"orient": "right", "values": [2e-5,3e-5,4e-5,5e-5,6e-5,7e-5,8e-5,9e-5,2e-4,3e-4,4e-4,5e-4,6e-4,7e-4,8e-4,9e-4,0.002,0.003,0.004,0.005,0.006,0.007,0.008,0.009,0.02,0.03,0.04,0.05,0.06,0.07,0.08,0.09,0.2,0.3,0.4,0.5,0.6,0.7,0.8,0.9,2,3,4,5,6,7,8,9,20,30,40,50,60,70,80,90,200,300,400,500,600,700,800,900], "labels": false, "tickSize": -4, "tickWidth": 1.1, "title": null}}
   }},
  {"data": {"name": "lowB"},
   "mark": {"type": "line", "color": "black", "strokeWidth": 5},
   "encoding": {
    "x": {"field": "phi", "type": "quantitative", "axis": null},
    "y": {"field": "s", "type": "quantitative", "scale": {"type": "log"}, "axis": null}
   }},
  {"data": {"name": "lowB"},
   "mark": {"type": "point", "shape": "triangle-down", "filled": true, "color": "black", "size": 230, "opacity": 1},
   "encoding": {
    "x": {"field": "phi", "type": "quantitative", "axis": null},
    "y": {"field": "s", "type": "quantitative", "scale": {"type": "log"}, "axis": null}
   }},
  {"data": {"name": "labB"},
   "mark": {"type": "text", "font": "Liberation Serif", "fontStyle": "italic", "fontSize": 30, "color": "black", "align": "center", "baseline": "middle"},
   "encoding": {
    "x": {"field": "phi", "type": "quantitative", "axis": null},
    "y": {"field": "s", "type": "quantitative", "scale": {"type": "log"}, "axis": null},
    "text": {"field": "t"}
   }}
 ]
}
]
}
